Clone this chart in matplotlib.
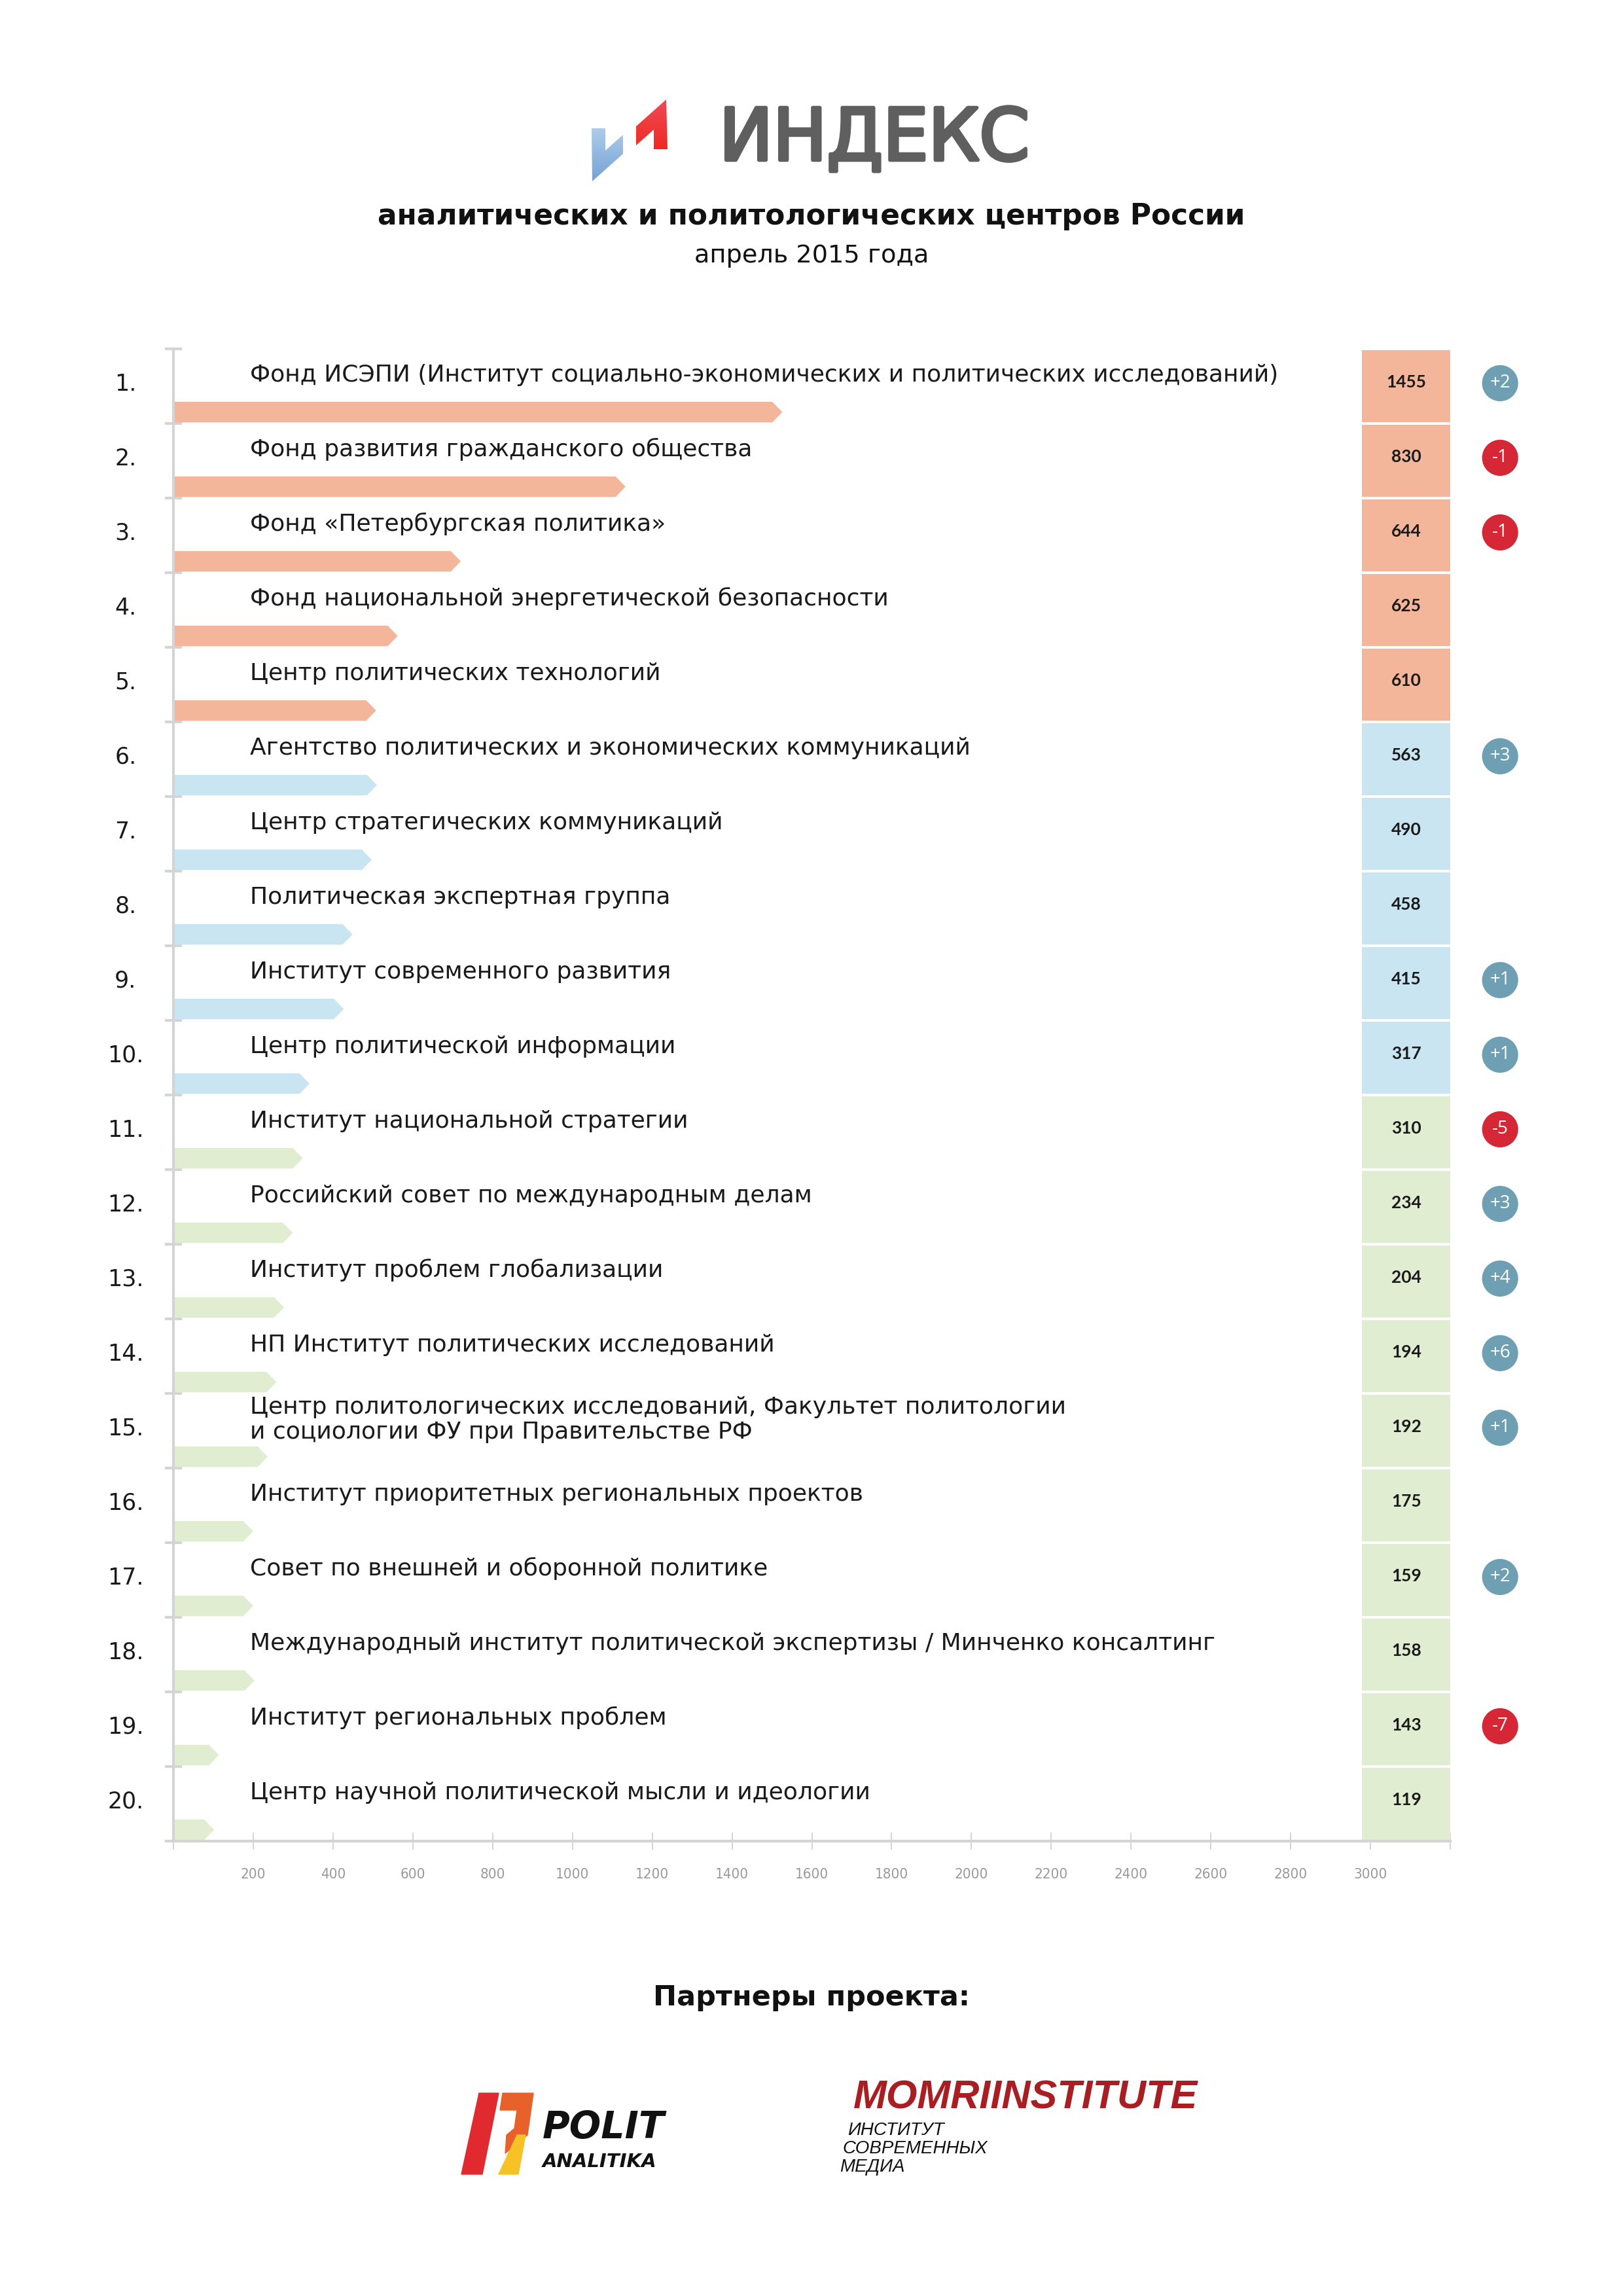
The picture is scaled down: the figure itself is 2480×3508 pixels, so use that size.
import numpy as np
import matplotlib
matplotlib.use("Agg")
import matplotlib.pyplot as plt
import matplotlib.patheffects as pe
from matplotlib.patches import Polygon, Rectangle
from matplotlib.colors import to_rgb

# ---- data ----
ranks = list(range(1, 21))
names = [
    "Фонд ИСЭПИ (Институт социально-экономических и политических исследований)",
    "Фонд развития гражданского общества",
    "Фонд «Петербургская политика»",
    "Фонд национальной энергетической безопасности",
    "Центр политических технологий",
    "Агентство политических и экономических коммуникаций",
    "Центр стратегических коммуникаций",
    "Политическая экспертная группа",
    "Институт современного развития",
    "Центр политической информации",
    "Институт национальной стратегии",
    "Российский совет по международным делам",
    "Институт проблем глобализации",
    "НП Институт политических исследований",
    "Центр политологических исследований, Факультет политологии\nи социологии ФУ при Правительстве РФ",
    "Институт приоритетных региональных проектов",
    "Совет по внешней и оборонной политике",
    "Международный институт политической экспертизы / Минченко консалтинг",
    "Институт региональных проблем",
    "Центр научной политической мысли и идеологии",
]
scores = [1455, 830, 644, 625, 610, 563, 490, 458, 415, 317,
          310, 234, 204, 194, 192, 175, 159, 158, 143, 119]
# bar tips as drawn in the picture (axis units)
bar_ends = [1526, 1133, 720, 562, 508, 510, 497, 449, 427, 341,
            324, 299, 277, 258, 236, 200, 200, 203, 114, 102]
changes = ["+2", "-1", "-1", "", "", "+3", "", "", "+1", "+1",
           "-5", "+3", "+4", "+6", "+1", "", "+2", "", "-7", ""]
groups = [0] * 5 + [1] * 5 + [2] * 10
group_colors = ["#F4B69B", "#CAE5F2", "#E1EDD0"]
x_ticks = list(range(0, 3201, 200))
x_tick_labels = ["" if t in (0, 3200) else str(t) for t in x_ticks]

W, H = 2480, 3508
GRAY = "#D4D4D6"
TXT = "#1A1A1A"
SANS = ["DejaVu Sans"]

fig = plt.figure(figsize=(W / 100, H / 100), dpi=100)

# overlay in pixel coordinates for header / footer
bg = fig.add_axes([0, 0, 1, 1], zorder=0)
bg.axis("off")


def grad_poly(pts, c_top, c_bot):
    poly = Polygon(pts, closed=True, facecolor="none", edgecolor="none")
    bg.add_patch(poly)
    xs = [p[0] for p in pts]
    ys = [p[1] for p in pts]
    t = np.linspace(0, 1, 64)[:, None]
    img = (np.array(to_rgb(c_top)) * (1 - t) + np.array(to_rgb(c_bot)) * t)[:, None, :]
    im = bg.imshow(img, extent=(min(xs), max(xs), max(ys), min(ys)),
                   aspect="auto", zorder=3)
    im.set_clip_path(poly)


# header logo
grad_poly([(904, 196), (925, 196), (925, 230), (952, 206), (952, 235), (905, 277)],
          "#AECBE9", "#75A3D6")
grad_poly([(972, 193), (1018, 152), (1020, 228), (999, 228), (999, 198), (972, 222)],
          "#F04A55", "#EE2A24")
bg.set_xlim(0, W)
bg.set_ylim(H, 0)
bg.text(1336, 214, "ИНДЕКС", ha="center", va="center", fontsize=79,
        color="#5F5F5F", family="DejaVu Sans",
        path_effects=[pe.withStroke(linewidth=4, foreground="#5F5F5F")])
bg.text(1240, 331, "аналитических и политологических центров России",
        ha="center", va="center", fontsize=31.6, fontweight="bold",
        color="#111111", family=SANS)
bg.text(1240, 391, "апрель 2015 года", ha="center", va="center",
        fontsize=27.5, color="#111111", family=SANS)

# footer
bg.text(1240, 3052, "Партнеры проекта:", ha="center", va="center",
        fontsize=31, fontweight="bold", color="#111111", family=SANS)
bg.add_patch(Polygon([(732, 3198), (762, 3198), (737, 3322), (705, 3322)],
                     color="#E02A2F", zorder=3))
bg.add_patch(Polygon([(768, 3198), (815, 3198), (806, 3262), (772, 3290),
                      (774, 3262), (786, 3252), (790, 3224), (764, 3224)],
                     color="#E8612A", zorder=3))
bg.add_patch(Polygon([(790, 3262), (803, 3262), (792, 3322), (762, 3322)],
                     color="#F6C225", zorder=3))
bg.text(829, 3251, "POLIT", ha="left", va="center", fontsize=41,
        fontweight="bold", style="italic", color="#111111", family="DejaVu Sans")
bg.text(829, 3303, "ANALITIKA", ha="left", va="center", fontsize=21,
        fontweight="bold", style="italic", color="#111111", family="DejaVu Sans")
bg.text(1304, 3206, "MOMRIINSTITUTE", ha="left", va="center", fontsize=44,
        fontweight="bold", style="italic", color="#A91E22", family="Liberation Sans")
for yy, xx, s in [(3255, 1295, "ИНСТИТУТ"), (3283, 1287, "СОВРЕМЕННЫХ"), (3311, 1283, "МЕДИА")]:
    bg.text(xx, yy, s, ha="left", va="center", fontsize=20, style="italic",
            color="#111111", family="Liberation Sans")

# ---- chart ----
ax = fig.add_axes([265 / W, 1 - 2813 / H, (2216 - 265) / W, (2813 - 533) / H], zorder=1)
ax.patch.set_alpha(0)
ax.set_xlim(0, 3200)
ax.set_ylim(20, 0)
for s in ("top", "right"):
    ax.spines[s].set_visible(False)
for s in ("left", "bottom"):
    ax.spines[s].set_color(GRAY)
    ax.spines[s].set_linewidth(3)
ax.set_xticks(x_ticks)
ax.set_xticklabels(x_tick_labels, family=["Liberation Sans Narrow", "DejaVu Sans"],
                   fontstretch="condensed")
ax.tick_params(axis="x", direction="inout", length=19, width=1.4, color=GRAY,
               labelcolor="#9A9A9A", labelsize=16, pad=20)
ax.set_yticks(range(0, 21))
ax.set_yticklabels([])
ax.tick_params(axis="y", direction="inout", length=19, width=3, color=GRAY)

tip = 25
for i in range(20):
    c = group_colors[groups[i]]
    L = bar_ends[i]
    y0, y1 = i + 0.71, i + 0.985
    ax.add_patch(Polygon([(0, y0), (L - tip, y0), (L, (y0 + y1) / 2), (L - tip, y1), (0, y1)],
                         closed=True, facecolor=c, edgecolor="none", zorder=2))
    ax.text(-120, i + 0.47, f"{ranks[i]}.", ha="center", va="center", fontsize=25,
            color=TXT, family=SANS, clip_on=False)
    lines = names[i].split("\n")
    step = 0.33
    top = i + 0.35 - step * (len(lines) - 1) / 2
    for k, line in enumerate(lines):
        ax.text(192, top + k * step, line, ha="left", va="center", fontsize=26,
                color=TXT, family=SANS)
    ax.add_patch(Rectangle((2979, i + 0.02), 3200 - 2979, 0.96, facecolor=c,
                           edgecolor="none", zorder=2))
    ax.text(3090, i + 0.45, str(scores[i]), ha="center", va="center", fontsize=19,
            fontweight="bold", color=TXT, family=["Lato", "DejaVu Sans"], zorder=3)
    if changes[i]:
        bc = "#D52736" if changes[i].startswith("-") else "#6E9FB3"
        ax.scatter([3325], [i + 0.46], s=1580, color=bc, edgecolors="none",
                   clip_on=False, zorder=3)
        ax.text(3325, i + 0.46, changes[i], ha="center", va="center", fontsize=20,
                color="white", family=["Open Sans", "DejaVu Sans"], zorder=4, clip_on=False)

fig.savefig("out.png", dpi=100, facecolor="white")
